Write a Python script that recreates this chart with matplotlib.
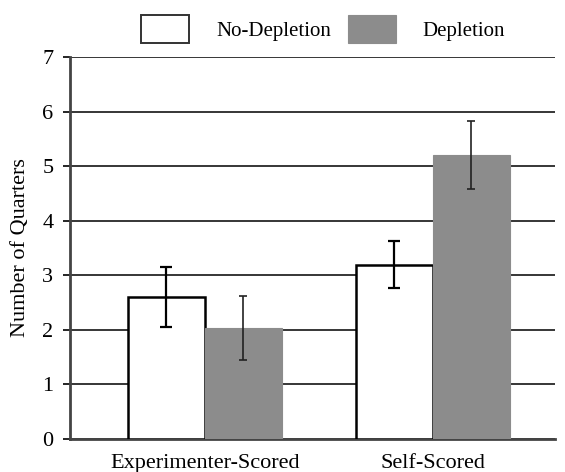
import numpy as np
import matplotlib.pyplot as plt

categories = ['Experimenter-Scored', 'Self-Scored']
no_depletion = [2.6, 3.19]
no_depletion_err = [0.55, 0.43]
depletion = [2.03, 5.2]
depletion_err = [0.59, 0.62]
y_ticks = [0, 1, 2, 3, 4, 5, 6, 7]

plt.rcParams['font.family'] = ['Liberation Serif', 'DejaVu Serif']

fig = plt.figure(figsize=(5.65, 4.72), dpi=100)
ax = fig.add_axes([0.124, 0.070, 0.858, 0.809])

x = np.arange(len(categories))
width = 0.338

ax.bar(x - width / 2, no_depletion, width, color='white', edgecolor='black',
       linewidth=1.8, label='No-Depletion', zorder=3)
ax.bar(x + width / 2, depletion, width, color='#8c8c8c', edgecolor='#8c8c8c',
       linewidth=0.8, label='Depletion', zorder=3)
ax.errorbar(x - width / 2, no_depletion, yerr=no_depletion_err, fmt='none',
            ecolor='black', elinewidth=1.6, capsize=4, capthick=1.6, zorder=4)
ax.errorbar(x + width / 2, depletion, yerr=depletion_err, fmt='none',
            ecolor='#222222', elinewidth=1.2, capsize=3, capthick=1.2, zorder=4)

ax.set_xlim(-0.59, 1.535)
ax.set_ylim(0, 7)
ax.set_yticks(y_ticks)
ax.set_xticks(x)
ax.set_xticklabels(categories, fontsize=16)
ax.tick_params(axis='y', labelsize=16, length=5, width=1.2, pad=7)
ax.tick_params(axis='x', length=0, pad=11)
ax.yaxis.grid(True, color='black', linewidth=1.1, zorder=0)
ax.set_axisbelow(True)

for side in ['top', 'right']:
    ax.spines[side].set_visible(False)
ax.spines['left'].set_color('#444444')
ax.spines['left'].set_linewidth(2)
ax.spines['bottom'].set_color('#444444')
ax.spines['bottom'].set_linewidth(2)

ax.set_ylabel('Number of Quarters', fontsize=16, labelpad=9)

fig.legend(loc='center', bbox_to_anchor=(0.572, 0.939), ncol=2, frameon=False,
           fontsize=15, handlelength=2.3, handleheight=1.7, handletextpad=1.3,
           columnspacing=0.8)
leg = fig.legends[0]
leg.legend_handles[0].set_edgecolor('#333333')
leg.legend_handles[0].set_linewidth(1.4)

fig.savefig('out.png', dpi=100)
